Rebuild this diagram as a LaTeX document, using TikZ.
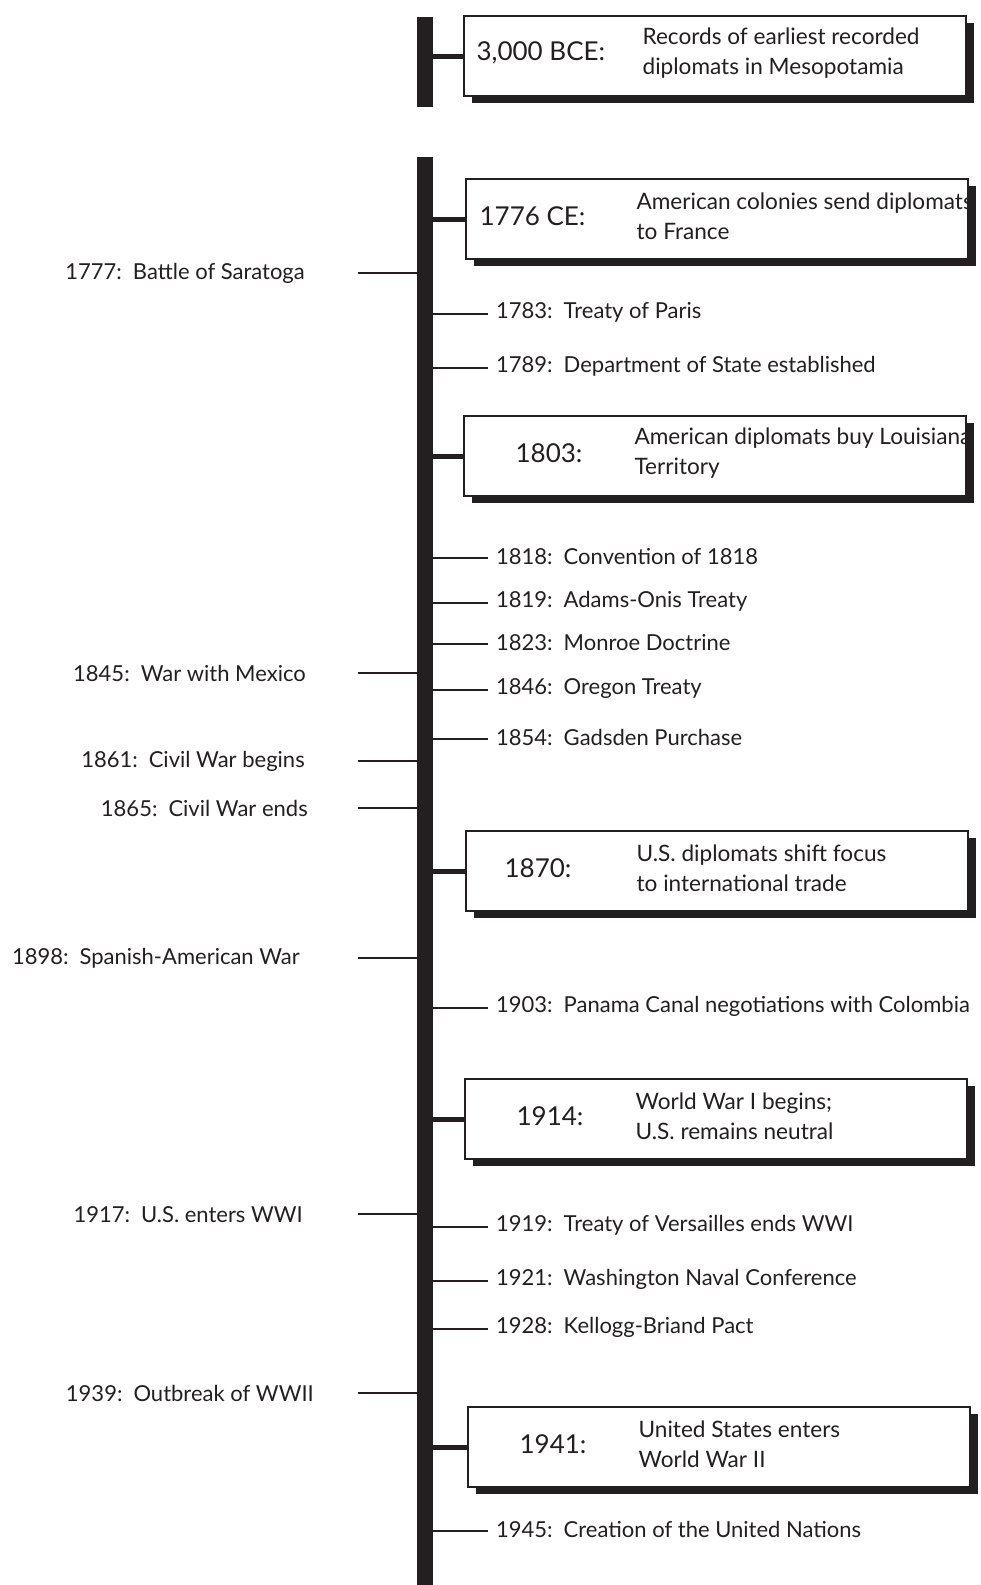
\documentclass[tikz,border=0pt]{standalone}
\usepackage{fontspec}
\setmainfont{Lato}
\usetikzlibrary{shadows}

\definecolor{ink}{HTML}{231F20}

\tikzset{
  event/.style={draw=ink, line width=1.2pt, fill=white, minimum width=502pt,
    minimum height=80pt, inner sep=0pt,
    drop shadow={shadow xshift=8pt, shadow yshift=-7pt, fill=ink, opacity=1}},
  datetext/.style={font=\fontsize{26}{30}\selectfont, text=ink, anchor=west, inner sep=0pt},
  desctext/.style={font=\fontsize{22.6}{30}\selectfont, text=ink, anchor=west, align=left, inner sep=0pt},
  lbl/.style={font=\fontsize{22}{25}\selectfont, text=ink, inner sep=0pt},
  bar/.style={fill=ink, minimum width=16pt, inner sep=0pt},
  bigtick/.style={draw=ink, line width=5pt},
  smalltick/.style={draw=ink, line width=1.8pt},
}

\begin{document}
\begin{tikzpicture}[x=1pt, y=-1pt]
  \useasboundingbox (0,0) rectangle (980,1585);

  % Timeline bars
  \node[bar, minimum height=90pt] (topbar) at (425,62) {};
  \node[bar, minimum height=1428pt] (spine) at (425,871) {};

  % Boxed events
  \foreach \n/\b/\cx/\cy/\dx/\tx/\dd/\la/\lb in {
      0/topbar/715/56/13/179/{3,000 BCE:}/{Records of earliest recorded}/{diplomats in Mesopotamia},
      1776/spine/717/219/14/171/{1776 CE:}/{American colonies send diplomats}/{to France},
      1803/spine/715/456/52/171/{1803:}/{American diplomats buy Louisiana}/{Territory},
      1870/spine/717/871/39/171/{1870:}/{U.S. diplomats shift focus}/{to international trade},
      1914/spine/716/1119/52/171/{1914:}/{World War I begins;}/{U.S. remains neutral},
      1941/spine/719/1447/52/171/{1941:}/{United States enters}/{World War II}} {
    \node[event] (ev\n) at (\cx,\cy) {};
    \node[datetext] (evd\n) at ([xshift=\dx pt, yshift=3pt]ev\n.west) {\dd};
    \node[desctext] (evt\n) at ([xshift=\tx pt, yshift=2.5pt]ev\n.west) {\la\\\lb};
    \draw[bigtick] (\b.east |- ev\n.west) -- (ev\n.west);
  }

  % Events on the right
  \foreach \n/\ty/\txt in {
      1783/310/Treaty of Paris,
      1789/364/Department of State established,
      1818/554/Convention of 1818,
      1819/599/Adams-Onis Treaty,
      1823/640/Monroe Doctrine,
      1846/686/Oregon Treaty,
      1854/735/Gadsden Purchase,
      1903/1004/Panama Canal negotiations with Colombia,
      1919/1223/Treaty of Versailles ends WWI,
      1921/1277/Washington Naval Conference,
      1928/1325/Kellogg-Briand Pact,
      1945/1527/Creation of the United Nations} {
    \node[lbl, anchor=west] (r\n) at (496,\ty+2.5) {\n:\hspace{0.5em}\txt};
    \coordinate (rt\n) at (488,\ty+4);
    \draw[smalltick] (spine.east |- rt\n) -- (rt\n);
  }

  % Events on the left
  \foreach \n/\tx/\ty/\txt in {
      1777/305/271/Battle of Saratoga,
      1845/306/671/War with Mexico,
      1861/305/759/Civil War begins,
      1865/308/806/Civil War ends,
      1898/300/956/Spanish-American War,
      1917/303/1212/U.S. enters WWI,
      1939/314/1391/Outbreak of WWII} {
    \node[lbl, anchor=east] (l\n) at (\tx,\ty+2.5) {\n:\hspace{0.5em}\txt};
    \coordinate (lt\n) at (358,\ty+2);
    \draw[smalltick] (lt\n) -- (spine.west |- lt\n);
  }
\end{tikzpicture}
\end{document}
